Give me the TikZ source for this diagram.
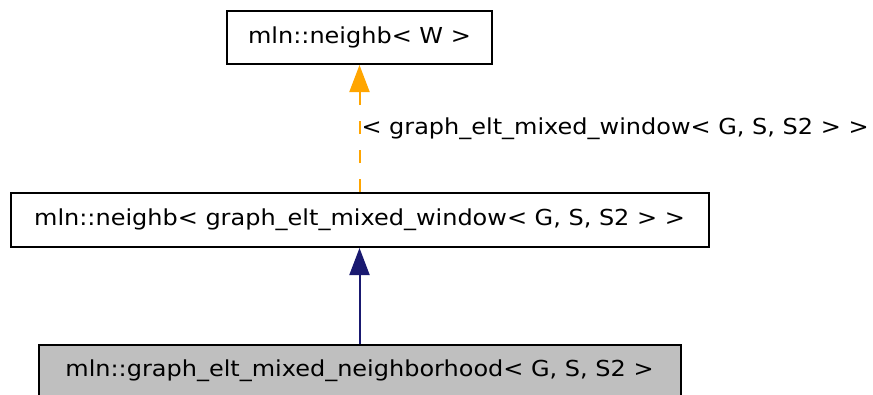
\documentclass[tikz,border=0pt]{standalone}
\usepackage{fontspec}
\setmainfont[FakeStretch=1.09]{DejaVu Sans}
\usepackage{tikz}
\usetikzlibrary{arrows.meta}
\definecolor{dxorange}{HTML}{FFA500}
\definecolor{dxnavy}{HTML}{191970}
\definecolor{dxgray}{HTML}{BFBFBF}

\begin{document}
\begin{tikzpicture}[x=1pt, y=-1pt,
    classbox/.style={draw=black, line width=2pt, fill=white, inner sep=0pt,
            font=\fontsize{22}{26}\selectfont},
    inherit/.style={line width=2pt, -{Triangle[length=27pt,width=20pt]}}]
      \useasboundingbox (0,0) rectangle (873,394);
      \node[classbox, minimum width=265pt, minimum height=53pt] (nbw) at (359.5,37.5) {mln::neighb< W >};
      \node[classbox, minimum width=698pt, minimum height=54pt] (nbwin) at (359.5,220) {mln::neighb< graph\_elt\_mixed\_window< G, S, S2 > >};
      \node[classbox, fill=dxgray, minimum width=642pt, minimum height=51pt] (mixnb) at (359.5,370.5) {mln::graph\_elt\_mixed\_neighborhood< G, S, S2 >};
      \draw[inherit, color=dxorange, dash pattern=on 13pt off 16pt] (nbwin.north) -- (nbw.south)
        node[pos=0.5, anchor=west, inner sep=0pt, xshift=1pt, text=black,
             font=\fontsize{22}{26}\selectfont] (tmpl) {< graph\_elt\_mixed\_window< G, S, S2 > >};
      \draw[inherit, color=dxnavy] (mixnb.north) -- (nbwin.south);
    \end{tikzpicture}
\end{document}
